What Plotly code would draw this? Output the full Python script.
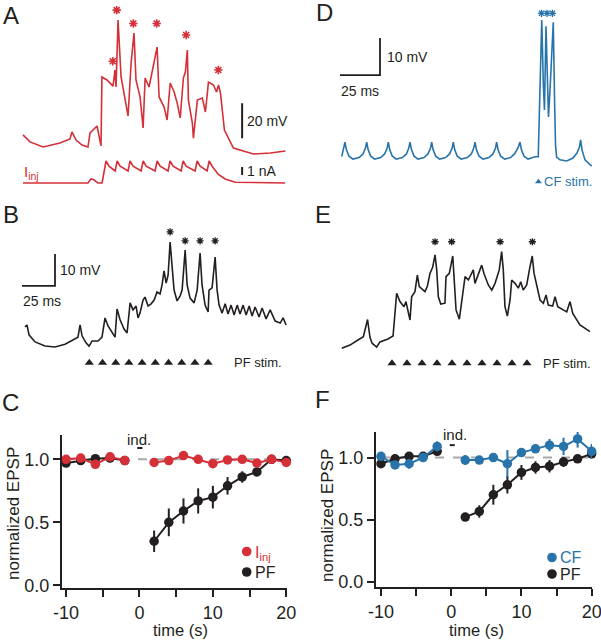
import plotly.graph_objects as go

W, H = 601, 640
FONT = "Liberation Sans, Arial, Helvetica, sans-serif"
INK = "#231f20"
RED = "#d52f38"
BLUE = "#2874aa"
GRAY = "#a8a8a8"

# ---------------- data ----------------
# A: somatic current injection (red), voltage in mV (relative to rest) and injected current in nA
A_T_MS = [0.0, 5.3, 15.2, 28.0, 35.6, 37.1, 40.2, 44.7, 49.2, 50.8, 56.1, 59.1, 59.8, 63.6, 68.2,
          69.7, 70.5, 72.0, 74.3, 78.8, 79.6, 81.9, 84.1, 85.6, 88.7, 91.0, 92.5, 95.5, 99.3,
          101.6, 103.1, 106.9, 109.2, 111.5, 114.5, 116.8, 119.1, 121.5, 123.0, 124.5, 125.3,
          128.3, 129.1, 132.1, 135.9, 138.2, 140.5, 144.3, 146.6, 148.1, 149.6, 152.6, 159.4,
          174.6, 187.4, 198.8]
A_V_MV = [6.9, 2.9, 0.0, 2.3, 4.6, 8.6, 4.0, 1.1, 0.0, 8.0, 12.0, 0.6, 40.0, 38.3, 34.8,
          44.0, 34.3, 72.5, 40.0, 22.8, 17.7, 48.0, 65.1, 38.3, 28.6, 10.9, 39.4, 34.3, 48.6,
          57.1, 28.6, 22.8, 15.4, 36.6, 31.4, 25.1, 16.6, 39.4, 42.8, 55.4, 26.8,
          13.7, 5.1, 26.8, 28.0, 20.0, 37.1, 35.4, 31.4, 35.4, 30.8, 9.7, -0.6,
          -4.0, -3.4, -2.3]
A_I_T_MS = [0.0, 49.2, 51.5, 53.8, 56.8, 59.9,
            62.9, 65.2, 69.8, 71.3, 73.6, 79.6, 81.1, 83.4, 89.5, 91.0, 93.3, 100.1,
            101.6, 103.9, 109.9, 111.4, 113.7, 119.8, 121.3, 123.6, 130.4, 131.9, 134.2, 139.5,
            141.0, 143.3, 147.8, 153.1, 160.7, 198.6]
A_I_NA = [0.0, 0.0, 0.5, 0.4, 0.0, 0.0,
          2.75, 2.1, 1.5, 2.75, 2.1, 1.5, 2.75, 2.1, 1.5, 2.75, 2.1, 1.5,
          2.75, 2.1, 1.5, 2.75, 2.1, 1.5, 2.75, 2.1, 1.5, 2.75, 2.1, 1.5,
          2.75, 2.1, 1.1, 0.5, 0.1, 0.0]
A_STAR_T = [68.0, 71.0, 83.6, 101.3, 123.6, 148.0]
A_STAR_V = [49.0, 78.2, 70.6, 70.6, 64.0, 44.0]

# B: PF train (black)
B_T_MS = [2.3, 3.8, 5.3, 9.9, 17.4, 25.0, 32.6, 42.4, 44.0, 45.5, 48.5, 50.8, 53.1, 57.6, 60.6,
          62.9, 65.2, 68.2, 70.5, 72.0, 74.3, 77.3, 79.6, 81.9, 84.1, 86.4, 87.9, 89.4, 91.7,
          93.2, 95.5, 97.8, 100.1, 102.3, 104.6, 106.1, 107.6, 109.2, 110.7, 112.2, 113.7,
          115.2, 117.5, 119.8, 121.3, 123.6, 125.1, 127.3, 130.4, 132.7, 134.9, 136.4, 138.7,
          141.0, 141.7, 144.0, 146.3, 147.8, 149.3, 151.6, 153.9, 156.1, 158.4, 160.7, 163.0,
          165.2, 167.5, 169.8, 172.1, 174.3, 176.6, 179.6, 181.9, 184.9, 188.0, 191.8, 195.6,
          197.8, 200.1]
B_V_MV = [4.1, 4.7, 1.6, -0.6, -1.9, -2.2, -1.3, 0.9, 4.7, 1.3, -0.9, -1.9, -0.3, -0.3, 0.9,
          6.9, 4.4, 2.2, 0.9, 9.7, 6.3, 3.4, 2.2, 11.6, 9.4, 10.6, 6.9, 8.4, 12.5,
          13.4, 10.6, 11.3, 12.5, 15.0, 14.4, 17.2, 21.6, 17.8, 20.3, 30.6, 22.5,
          15.6, 12.2, 13.8, 15.6, 28.1, 17.2, 13.1, 11.6, 15.6, 27.2, 17.2, 10.9,
          8.75, 15.6, 16.3, 25.9, 15.6, 10.9, 8.4, 11.3, 8.1, 10.9, 7.8, 10.9,
          8.1, 10.9, 7.8, 10.6, 7.5, 10.3, 7.2, 10.0, 6.6, 9.4, 5.9, 5.3,
          6.9, 4.7]
B_STAR_T = [112.2, 123.6, 134.9, 146.3]
B_STAR_V = [33.8, 31.0, 31.0, 31.0]
B_STIM_T = [51, 61, 71, 81, 91, 101, 111, 121, 131, 141]

# D: climbing fibre stimulation (blue)
D_T_MS = [1.1,
          3.1, 4.0, 5.6, 8.1, 11.9, 14.4, 15.9,
          16.7, 17.6, 19.2, 21.7, 25.4, 27.9, 29.5,
          30.2, 31.1, 32.7, 35.2, 39.0, 41.5, 43.0,
          43.75, 44.7, 46.3, 48.75, 52.5, 55.0, 56.6,
          57.3, 58.2, 59.8, 62.3, 66.0, 68.5, 70.1,
          70.8, 71.7, 73.3, 75.8, 79.6, 82.1, 83.6,
          84.4, 85.3, 86.9, 89.4, 93.1, 95.6, 97.2,
          97.9, 98.8, 100.4, 102.9, 106.6, 109.1, 111.2,
          112.5, 113.4, 115.0, 117.5, 121.9, 123.9,
          124.6, 126.1, 127.1, 127.8, 128.75, 129.7, 130.3, 131.25, 133.3, 134.1, 134.7, 135.4,
          137.5, 141.7, 145.6, 148.1, 149.7, 150.4, 151.25, 153.1, 157.3]
D_V_MV = [0.4,
          4.3, 2.2, 0.5, -0.3, 0.1, 1.1, 2.7,
          4.3, 2.2, 0.5, -0.3, 0.1, 1.1, 2.7,
          4.3, 2.2, 0.5, -0.3, 0.1, 1.1, 2.7,
          4.3, 2.2, 0.5, -0.3, 0.1, 1.1, 2.7,
          4.3, 2.2, 0.5, -0.3, 0.1, 1.1, 2.7,
          4.3, 2.2, 0.5, -0.3, 0.1, 1.1, 2.7,
          4.3, 2.2, 0.5, -0.3, 0.1, 1.1, 2.7,
          4.3, 2.2, 0.5, -0.3, 0.1, 1.1, 2.7,
          4.3, 2.2, 0.5, -0.3, 0.35, 0.35,
          12.4, 37.3, 19.7, 13.0, 35.6, 17.0, 11.1, 18.4, 36.7, 15.7, 3.5, 0.27,
          -0.5, -0.8, 0.0, 1.35, 3.0, 4.9, 2.2, -0.5, -2.2]
D_STAR_T = [125.9, 129.4, 132.8]
D_STAR_V = [39.1, 39.1, 39.1]
D_STIM_T = [124.0]

# E: PF train after CF pairing (black)
E_T_MS = [0.5, 6.0, 11.3, 14.9, 17.7, 19.3, 20.7, 23.8, 26.0, 31.3, 34.7, 37.1, 39.3, 42.0,
          43.3, 44.9, 46.0, 47.1, 49.3, 50.9, 52.2, 56.0, 57.5, 58.2, 59.3, 61.1, 62.7, 63.8,
          64.9, 66.5, 69.3, 70.0, 72.2, 74.5, 75.3, 76.7, 78.9, 81.1, 82.7, 84.9, 87.1, 88.2,
          89.3, 91.5, 93.8, 95.3, 98.2, 100.5, 102.7, 105.5, 107.1, 108.2, 109.3, 110.9, 112.7,
          113.8, 116.0, 118.2, 119.8, 121.5, 123.8, 126.0, 127.5, 128.7, 130.5, 132.7, 134.9,
          136.7, 138.2, 141.1, 142.7, 144.5, 150.5, 152.7, 154.5, 159.3, 166.0]
E_V_MV = [-0.1, 0.9, 2.5, 3.5, 8.9, 3.4, 1.5, 0.3, 1.9, 2.8, 3.75, 17.1, 14.5, 12.9,
          14.5, 10.8, 8.75, 16.0, 17.6, 22.8, 19.2, 17.6, 19.2, 20.7, 23.3, 25.2, 29.1, 24.4,
          16.0, 13.75, 14.0, 22.3, 23.3, 28.75, 21.25, 11.9, 9.0, 16.0, 22.3, 21.25, 23.3, 24.4,
          20.2, 23.3, 25.9, 23.3, 19.7, 18.1, 20.2, 24.4, 30.1, 24.4, 12.9, 10.0, 15.0,
          21.25, 20.2, 18.7, 20.7, 18.1, 19.7, 25.4, 28.75, 23.3, 19.2, 15.0, 14.0,
          16.6, 13.4, 13.1, 16.0, 12.9, 11.3, 14.5, 10.8, 7.2, 5.1]
E_STAR_T = [62.7, 73.8, 106.1, 127.6]
E_STAR_V = [33.2, 33.2, 33.2, 33.2]
E_STIM_T = [34, 44, 54, 64, 74, 84, 94, 104, 114, 124]

# C / F: normalized EPSP time courses
T_PRE = [-10, -8, -6, -4, -2]
T_POST = [2, 4, 6, 8, 10, 12, 14, 16, 18, 20]

C_INJ_PRE = [1.00, 1.01, 0.96, 1.02, 0.99]
C_INJ_PRE_ERR = [0.02, 0.02, 0.02, 0.02, 0.02]
C_INJ_POST = [0.975, 0.99, 1.03, 1.00, 0.965, 0.995, 1.00, 0.97, 1.00, 0.975]
C_INJ_POST_ERR = [0.02, 0.02, 0.02, 0.02, 0.02, 0.02, 0.02, 0.02, 0.02, 0.02]
C_PF_PRE = [0.97, 0.99, 1.005, 1.01, 0.99]
C_PF_PRE_ERR = [0.01, 0.01, 0.01, 0.01, 0.01]
C_PF_POST = [0.35, 0.50, 0.59, 0.67, 0.70, 0.79, 0.86, 0.90, 1.00, 0.99]
C_PF_POST_ERR = [0.085, 0.11, 0.10, 0.10, 0.09, 0.07, 0.045, 0.03, 0.01, 0.01]

F_CF_PRE = [1.01, 0.94, 0.95, 1.00, 1.09]
F_CF_PRE_ERR = [0.03, 0.02, 0.04, 0.02, 0.04]
F_CF_POST = [0.98, 0.98, 1.00, 0.95, 1.04, 1.07, 1.10, 1.09, 1.15, 1.05]
F_CF_POST_ERR = [0.04, 0.02, 0.02, 0.11, 0.02, 0.03, 0.05, 0.07, 0.07, 0.06]
F_PF_PRE = [0.95, 0.99, 1.01, 1.01, 1.05]
F_PF_PRE_ERR = [0.02, 0.02, 0.02, 0.02, 0.02]
F_PF_POST = [0.52, 0.565, 0.70, 0.78, 0.88, 0.92, 0.93, 0.965, 0.99, 1.03]
F_PF_POST_ERR = [0.02, 0.05, 0.08, 0.07, 0.06, 0.05, 0.05, 0.04, 0.02, 0.03]

IND_WINDOW = [-0.3, 0.4]
BASELINE = 1.0
SCALE_MS = 25
SCALE_MV = 10

# ---------------- figure ----------------
fig = go.Figure()


def trace_axes(box, x_origin, x_scale, y_origin, y_scale):
    """Hidden axes whose domain is a pixel box and whose units are ms / mV."""
    x0, y0, x1, y1 = box
    xa = dict(domain=[x0 / W, x1 / W], range=[(x0 - x_origin) / x_scale, (x1 - x_origin) / x_scale],
              visible=False, fixedrange=True, automargin=False)
    ya = dict(domain=[1 - y1 / H, 1 - y0 / H], range=[(y_origin - y1) / y_scale, (y_origin - y0) / y_scale],
              visible=False, fixedrange=True, automargin=False)
    return xa, ya


def add_line(x, y, color, xa, ya, width=1.6, dash=None):
    fig.add_trace(go.Scatter(x=x, y=y, mode="lines", line=dict(color=color, width=width, dash=dash),
                             xaxis=xa, yaxis=ya, hoverinfo="skip", showlegend=False, cliponaxis=False))


def add_stars(x, y, color, xa, ya, size=7, width=1.5):
    fig.add_trace(go.Scatter(x=x, y=y, mode="markers", xaxis=xa, yaxis=ya, hoverinfo="skip",
                             showlegend=False, cliponaxis=False,
                             marker=dict(symbol="asterisk-open", size=size, color=color,
                                         line=dict(width=width, color=color))))


def add_stim(x, y, color, xa, ya, size=8):
    fig.add_trace(go.Scatter(x=x, y=[y] * len(x), mode="markers", xaxis=xa, yaxis=ya, hoverinfo="skip",
                             showlegend=False, cliponaxis=False,
                             marker=dict(symbol="triangle-up", size=size, color=color)))


def label(text, x, y, xref, yref, color=INK, size=14, xanchor="left"):
    fig.add_annotation(text=text, x=x, y=y, xref=xref, yref=yref, showarrow=False,
                       xanchor=xanchor, yanchor="middle", font=dict(family=FONT, size=size, color=color))


def scale_bar(t0, v0, color, xa, ya):
    add_line([t0, t0 + SCALE_MS, t0 + SCALE_MS], [v0, v0, v0 + SCALE_MV], color, xa, ya, width=1.8)


# panel A
ax_a_x, ax_a_y = trace_axes((0, 0, 300, 200), 23, 1.32, 147, 1.75)
_, ax_a_i = trace_axes((0, 0, 300, 200), 23, 1.32, 183, 8.0)
add_line(A_T_MS, A_V_MV, RED, "x", "y")
add_line(A_I_T_MS, A_I_NA, RED, "x", "y2")
add_stars(A_STAR_T, A_STAR_V, RED, "x", "y", size=7, width=1.6)
add_line([166, 166], [5, 25], INK, "x", "y", width=2)
add_line([166, 166], [1, 2], INK, "x", "y2", width=2)
label("20 mV", 168.5, 15, "x", "y")
label("1 nA", 168.5, 1.5, "x", "y2")
label("I<sub>inj</sub>", -0.5, 1.3, "x", "y2", color=RED, size=15)

# panel B
ax_b_x, ax_b_y = trace_axes((0, 200, 300, 370), 22, 1.32, 340, 3.2)
add_line(B_T_MS, B_V_MV, INK, "x3", "y3")
add_stars(B_STAR_T, B_STAR_V, INK, "x3", "y3", size=6, width=1.3)
add_stim(B_STIM_T, -7.1, INK, "x3", "y3")
scale_bar(0, 16.9, INK, "x3", "y3")
label("10 mV", 27.5, 21.9, "x3", "y3")
label("25 ms", -0.5, 12.3, "x3", "y3")
label("PF stim.", 159, -7.1, "x3", "y3", size=13)

# panel D
ax_d_x, ax_d_y = trace_axes((300, 0, 601, 200), 340, 1.6, 158, 3.7)
add_line(D_T_MS, D_V_MV, BLUE, "x4", "y4")
add_stars(D_STAR_T, D_STAR_V, BLUE, "x4", "y4", size=6, width=1.3)
add_stim(D_STIM_T, -6.4, BLUE, "x4", "y4", size=6)
scale_bar(0, 22.4, INK, "x4", "y4")
label("10 mV", 28.0, 27.4, "x4", "y4")
label("25 ms", -0.5, 18.0, "x4", "y4")
label("CF stim.", 126.0, -6.4, "x4", "y4", color=BLUE, size=13)

# panel E
ax_e_x, ax_e_y = trace_axes((300, 200, 601, 370), 341, 1.5, 348, 3.2)
add_line(E_T_MS, E_V_MV, INK, "x5", "y5")
add_stars(E_STAR_T, E_STAR_V, INK, "x5", "y5", size=6, width=1.3)
add_stim(E_STIM_T, -4.8, INK, "x5", "y5")
label("PF stim.", 133.5, -4.8, "x5", "y5", size=13)


# panels C and F
def add_series(t, y, err, color, xa, ya):
    fig.add_trace(go.Scatter(x=t, y=y, mode="lines+markers", xaxis=xa, yaxis=ya, cliponaxis=False,
                             hoverinfo="skip", showlegend=False,
                             line=dict(color=color, width=2),
                             marker=dict(size=9.5, color=color),
                             error_y=dict(type="data", array=err, thickness=2, width=0, color=color)))


for xa, ya in (("x6", "y6"), ("x7", "y7")):
    add_line([T_PRE[0], T_POST[-1]], [BASELINE, BASELINE], GRAY, xa, ya, width=2, dash="dash")

add_series(T_PRE, C_PF_PRE, C_PF_PRE_ERR, INK, "x6", "y6")
add_series(T_POST, C_PF_POST, C_PF_POST_ERR, INK, "x6", "y6")
add_series(T_PRE, C_INJ_PRE, C_INJ_PRE_ERR, RED, "x6", "y6")
add_series(T_POST, C_INJ_POST, C_INJ_POST_ERR, RED, "x6", "y6")
add_line(IND_WINDOW, [1.09, 1.09], INK, "x6", "y6", width=2)
label("ind.", 0.0, 1.16, "x6", "y6", size=15, xanchor="center")

add_series(T_PRE, F_PF_PRE, F_PF_PRE_ERR, INK, "x7", "y7")
add_series(T_POST, F_PF_POST, F_PF_POST_ERR, INK, "x7", "y7")
add_series(T_PRE, F_CF_PRE, F_CF_PRE_ERR, BLUE, "x7", "y7")
add_series(T_POST, F_CF_POST, F_CF_POST_ERR, BLUE, "x7", "y7")
add_line([IND_WINDOW[0] + 0.1, IND_WINDOW[1] + 0.1], [1.10, 1.10], INK, "x7", "y7", width=2)
label("ind.", 0.5, 1.185, "x7", "y7", size=15, xanchor="center")


def data_axes(px0, px1, xr, py0, py1, yr, anchor):
    common = dict(showline=True, linewidth=2, linecolor=INK, ticks="outside", ticklen=7, tickwidth=2,
                  tickcolor=INK, showgrid=False, zeroline=False, fixedrange=True, automargin=False,
                  ticklabeloverflow="allow", tickfont=dict(family=FONT, size=18, color=INK))
    xa = dict(common, domain=[px0 / W, px1 / W], range=xr, anchor="y" + anchor,
              tickvals=[-10, 0, 10, 20], ticktext=["-10", "0", "10", "20"],
              minor=dict(tickvals=[-5, 5, 15], ticklen=7, tickwidth=2, tickcolor=INK, ticks="outside"))
    ya = dict(common, domain=[1 - py1 / H, 1 - py0 / H], range=yr, anchor="x" + anchor,
              tickvals=[0, 0.5, 1.0], ticktext=["0.0", "0.5", "1.0"])
    return xa, ya


ax_c_x, ax_c_y = data_axes(62, 287, [-10.55, 20.1], 435, 588, [-0.021, 1.193], "6")
ax_f_x, ax_f_y = data_axes(376, 592, [-10.71, 20.05], 432, 587, [-0.044, 1.206], "7")

ax_a_i.update(overlaying="y", anchor="x")
fig.update_layout(
    width=W, height=H, autosize=False,
    margin=dict(l=0, r=0, t=0, b=0, pad=0, autoexpand=False),
    paper_bgcolor="white", plot_bgcolor="rgba(0,0,0,0)", showlegend=False,
    font=dict(family=FONT, color=INK),
    xaxis=dict(ax_a_x, anchor="y"), yaxis=dict(ax_a_y, anchor="x"), yaxis2=ax_a_i,
    xaxis3=dict(ax_b_x, anchor="y3"), yaxis3=dict(ax_b_y, anchor="x3"),
    xaxis4=dict(ax_d_x, anchor="y4"), yaxis4=dict(ax_d_y, anchor="x4"),
    xaxis5=dict(ax_e_x, anchor="y5"), yaxis5=dict(ax_e_y, anchor="x5"),
    xaxis6=ax_c_x, yaxis6=ax_c_y, xaxis7=ax_f_x, yaxis7=ax_f_y,
)


def paper_text(text, px, py, size, color=INK, angle=0, xanchor="center"):
    fig.add_annotation(text=text, x=px / W, y=1 - py / H, xref="paper", yref="paper", showarrow=False,
                       xanchor=xanchor, yanchor="middle", textangle=angle,
                       font=dict(family=FONT, size=size, color=color))


# panel letters
for letter, px, py in (("A", 11, 15), ("B", 11, 214), ("C", 10, 402),
                       ("D", 324, 13), ("E", 323, 214), ("F", 322, 399)):
    paper_text(letter, px, py, 24)

# axis titles
paper_text("normalized EPSP", 13, 514, 17, angle=-90)
paper_text("time (s)", 180, 630, 16.5)
paper_text("normalized EPSP", 327, 516, 17, angle=-90)
paper_text("time (s)", 476, 630, 16.5)

# legends (keys + labels)
for px, py, color, text in ((246.7, 551.5, RED, "I<sub>inj</sub>"), (246.7, 572, INK, "PF"),
                            (552, 557.5, BLUE, "CF"), (552, 574, INK, "PF")):
    fig.add_shape(type="circle", xref="paper", yref="paper", x0=(px - 4.8) / W, x1=(px + 4.8) / W,
                  y0=1 - (py + 4.8) / H, y1=1 - (py - 4.8) / H, fillcolor=color, line=dict(width=0))
    paper_text(text, px + 6, py + (2 if "sub" in text else 0), 16, color=color, xanchor="left")

# the default page keeps an 8px body margin; drop it so the figure sits at the window origin
fig.write_html("out.html", config={"displayModeBar": False, "staticPlot": True},
               post_script="document.body.style.margin='0';")
